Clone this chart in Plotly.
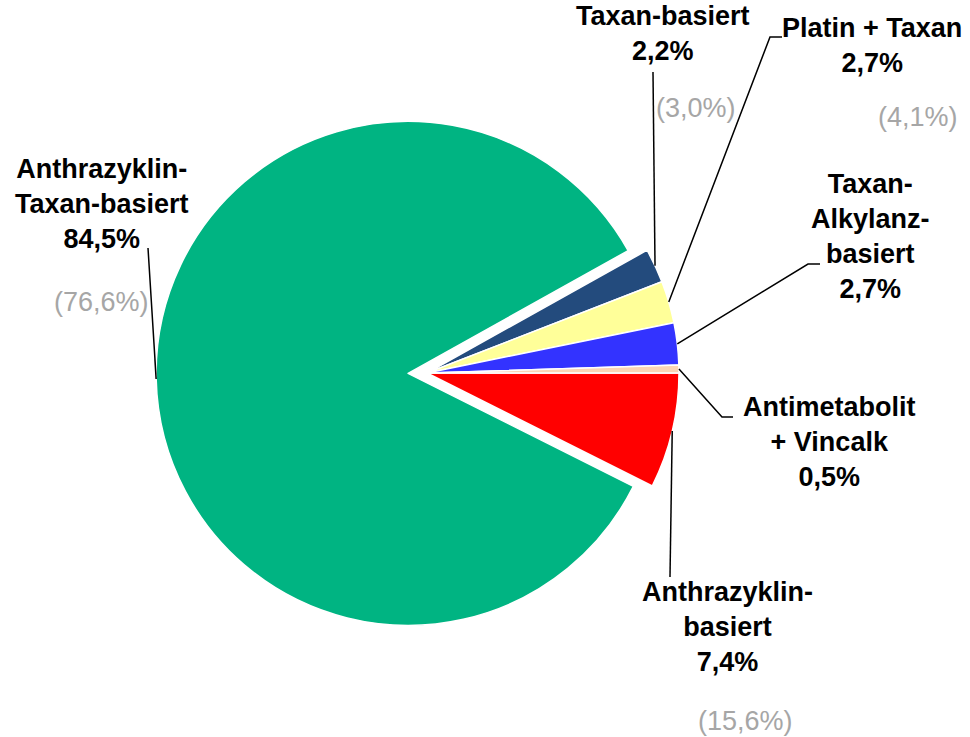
import math
import plotly.graph_objects as go

# Regimen shares (%) and reference shares shown in parentheses
categories = [
    "Anthrazyklin-basiert",
    "Anthrazyklin-Taxan-basiert",
    "Taxan-basiert",
    "Platin + Taxan",
    "Taxan-Alkylanz-basiert",
    "Antimetabolit + Vincalk",
]
label_lines = [
    "Anthrazyklin-<br>basiert",
    "Anthrazyklin-<br>Taxan-basiert",
    "Taxan-basiert",
    "Platin + Taxan",
    "Taxan-<br>Alkylanz-<br>basiert",
    "Antimetabolit<br>+ Vincalk",
]
shares = [7.4, 84.5, 2.2, 2.7, 2.7, 0.5]
reference_shares = [15.6, 76.6, 3.0, 4.1, None, None]
colors = ["#FF0000", "#00B482", "#234B7D", "#FFFF99", "#3333FF", "#FBD5B5"]
pulls = [0, 0.075, 0, 0, 0, 0]

W, H = 970, 737
CX, CY, R = 427, 373, 252          # pie centre and radius in pixels
PULL_MAX = max(pulls)
half = R * (1 + PULL_MAX)


def px(x):
    return x / W


def py(y):
    return 1 - y / H


def fmt(v):
    return f"{v:.1f}".replace(".", ",") + "%"


fig = go.Figure(go.Pie(
    labels=categories,
    values=shares,
    sort=False,
    direction="clockwise",
    rotation=90,
    pull=pulls,
    marker=dict(colors=colors, line=dict(color="white", width=1.5)),
    textinfo="none",
    hoverinfo="label+percent",
    showlegend=False,
    domain=dict(x=[px(CX - half), px(CX + half)],
                y=[py(CY + half), py(CY - half)]),
))

# Anchor of each leader line: outer arc at the slice's mid angle
total = sum(shares)
anchors = []
start = 0.0  # degrees, measured counter-clockwise from 3 o'clock
for v, p in zip(shares, pulls):
    span = 360 * v / total
    mid = math.radians(start - span / 2)
    ox = CX + p * R * math.cos(mid)
    oy = CY - p * R * math.sin(mid)
    anchors.append((ox + R * math.cos(mid), oy - R * math.sin(mid)))
    start -= span

# Label placement (text centre) and leader line end points, in pixels
label_pos = [(727, 627), (102, 204), (663, 33), (872, 45), (870, 237), (829, 442)]
ref_pos = [(745, 721), (101, 302), (696, 108), (918, 117), None, None]
leader_ends = [
    [(670, 577)],
    [(148, 248)],
    [(653, 72)],
    [(770, 37), (782, 37)],
    [(808, 264), (820, 264)],
    [(722, 417), (733, 417)],
]

annotations = []
shapes = []
for i in range(len(categories)):
    x, y = label_pos[i]
    annotations.append(dict(
        x=px(x), y=py(y), xref="paper", yref="paper",
        text=f"<b>{label_lines[i]}<br>{fmt(shares[i])}</b>",
        showarrow=False, xanchor="center", yanchor="middle",
        font=dict(family="Liberation Sans", size=27, color="black"),
    ))
    if reference_shares[i] is not None:
        rx, ry = ref_pos[i]
        annotations.append(dict(
            x=px(rx), y=py(ry), xref="paper", yref="paper",
            text=f"({fmt(reference_shares[i])})",
            showarrow=False, xanchor="center", yanchor="middle",
            font=dict(family="Liberation Sans", size=27, color="#A6A6A6"),
        ))
    pts = [anchors[i]] + leader_ends[i]
    path = "M " + " L ".join(f"{px(a)},{py(b)}" for a, b in pts)
    shapes.append(dict(type="path", xref="paper", yref="paper", path=path,
                       line=dict(color="black", width=1.5)))

fig.update_layout(
    width=W, height=H,
    margin=dict(l=0, r=0, t=0, b=0),
    paper_bgcolor="white",
    plot_bgcolor="white",
    annotations=annotations,
    shapes=shapes,
)

fig.write_html("out.html")
